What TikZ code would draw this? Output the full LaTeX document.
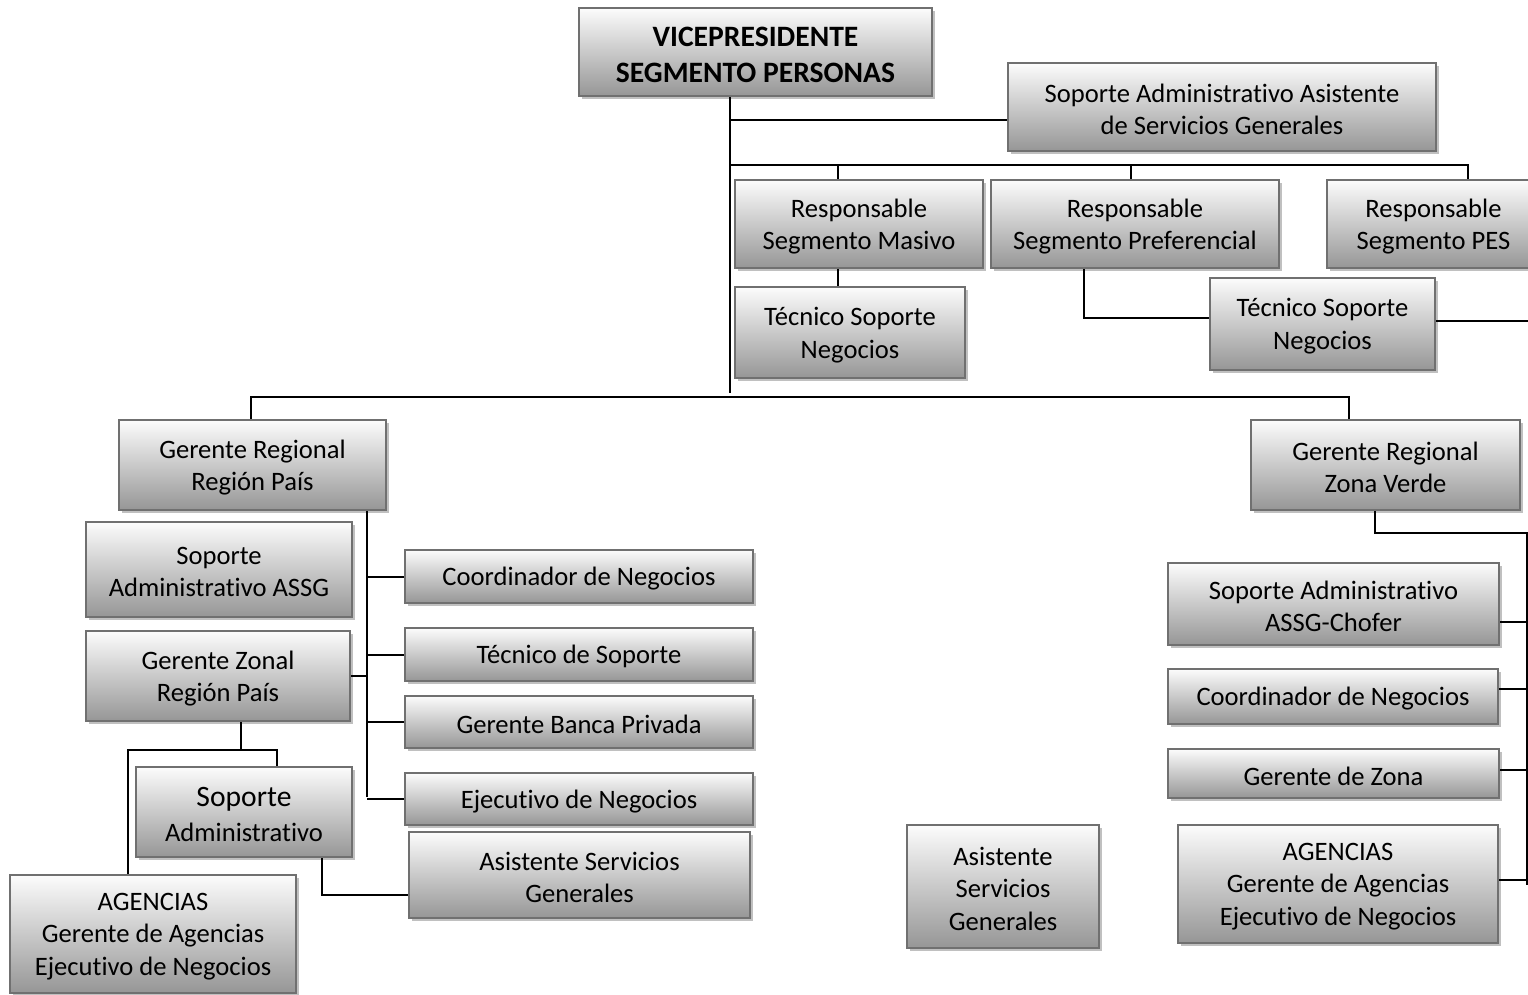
\documentclass[tikz,border=0pt]{standalone}
\usepackage{fontspec}
\setmainfont[Ligatures=NoCommon]{Carlito}
\usetikzlibrary{shadows}
\definecolor{boxtop}{RGB}{252,252,252}
\definecolor{boxbottom}{RGB}{150,150,150}
\definecolor{boxline}{RGB}{112,112,112}
\definecolor{boxshade}{RGB}{192,192,192}
\tikzset{
  orgbox/.style={draw=boxline, line width=1.2pt, top color=boxtop, bottom color=boxbottom,
    drop shadow={shadow xshift=1.6pt, shadow yshift=-1.6pt, fill=boxshade, opacity=1},
    inner sep=0pt},
  boxtext/.style={inner sep=0pt, align=center, font=\fontsize{13.3}{16.3}\selectfont},
  titlebox/.style={font=\fontsize{14.8}{18}\selectfont\bfseries},
  link/.style={draw=black, line width=1pt}
}
% box given by left, top, right, bottom (pixel-like units); its caption sits slightly low
\newcommand\orgnode[7][]{%
  \pgfmathsetmacro\bw{(#5-#3)*0.5}%
  \pgfmathsetmacro\bh{(#6-#4)*0.5}%
  \node[orgbox, minimum width=\bw pt, minimum height=\bh pt] (#2) at ({(#3+#5)/2},{(#4+#6)/2}) {};
  \node[boxtext, #1] (#2-text) at ([yshift=-1.2pt]#2.center) {#7};}
\begin{document}
\begin{tikzpicture}[x=0.5pt, y=-0.5pt]
\useasboundingbox (0,0) rectangle (1528,995);
\clip (0,0) rectangle (1528,995);

% ---- top level
\orgnode[titlebox]{vp}{579}{8}{932}{96}{VICEPRESIDENTE\\SEGMENTO PERSONAS}
\orgnode{sa}{1008}{63}{1436}{151}{Soporte Administrativo Asistente\\de Servicios Generales}
\orgnode{rm}{735}{180}{983}{268}{Responsable\\Segmento Masivo}
\orgnode{rp}{991}{180}{1279}{268}{Responsable\\Segmento Preferencial}
\orgnode{rs}{1327}{180}{1540}{268}{Responsable\\Segmento PES}
\orgnode{tm}{735}{287}{965}{378}{Técnico Soporte\\Negocios}
\orgnode{tp}{1210}{278}{1435}{370}{Técnico Soporte\\Negocios}

% ---- regional managers
\orgnode{grp}{119}{420}{386}{510}{Gerente Regional\\Región País}
\orgnode{grz}{1251}{420}{1520}{510}{Gerente Regional\\Zona Verde}

% ---- Región País branch
\orgnode{sassg}{86}{522}{352}{617}{Soporte\\Administrativo ASSG}
\orgnode{gz}{86}{631}{350}{721}{Gerente Zonal\\Región País}
\orgnode{sadm}{136}{767}{352}{857}{{\fontsize{14.8}{17}\selectfont Soporte}\\[1pt]Administrativo}
\orgnode{agl}{10}{875}{296}{993}{AGENCIAS\\Gerente de Agencias\\Ejecutivo de Negocios}
\orgnode{cnl}{405}{550}{753}{603}{Coordinador de Negocios}
\orgnode{ts}{405}{628}{753}{681}{Técnico de Soporte}
\orgnode{gbp}{405}{696}{753}{748}{Gerente Banca Privada}
\orgnode{ejn}{405}{773}{753}{825}{Ejecutivo de Negocios}
\orgnode{asgl}{409}{832}{750}{918}{Asistente Servicios\\Generales}

% ---- stand-alone box
\orgnode{asgm}{907}{825}{1099}{948}{Asistente\\Servicios\\Generales}

% ---- Zona Verde branch
\orgnode{chof}{1168}{563}{1499}{645}{Soporte Administrativo\\ASSG-Chofer}
\orgnode{cnr}{1168}{669}{1498}{724}{Coordinador de Negocios}
\orgnode{gzn}{1168}{749}{1499}{798}{Gerente de Zona}
\orgnode{agr}{1178}{825}{1498}{943}{AGENCIAS\\Gerente de Agencias\\Ejecutivo de Negocios}

% ---- connector guide points
\coordinate (trunk) at (730,393);
\coordinate (saY) at (730,120);
\coordinate (bus) at (730,165);
\coordinate (xm) at (838,0);
\coordinate (xp) at (1131,0);
\coordinate (xs) at (1468,0);
\coordinate (xpd) at (1084,318);
\coordinate (edge) at (1528,321);
\coordinate (busL) at (251,397);
\coordinate (busR) at (1349,397);
\coordinate (spL) at (367,797);
\coordinate (xgz) at (241,750);
\coordinate (xsa) at (277,0);
\coordinate (xag) at (128,0);
\coordinate (xsd) at (322,895);
\coordinate (zvA) at (1375,533);
\coordinate (zvB) at (1527,533);
\coordinate (zvEnd) at (1527,885);

% ---- connectors: vice-president level
\draw[link] (vp.south -| trunk) -- (trunk);
\draw[link] (saY) -- (saY -| sa.west);
\draw[link] (bus) -- (bus -| xs) -- (xs |- rs.north);
\draw[link] (xm |- bus) -- (xm |- rm.north);
\draw[link] (xp |- bus) -- (xp |- rp.north);
\draw[link] (rm.south -| xm) -- (tm.north -| xm);
\draw[link] (rp.south -| xpd) -- (xpd) -- (xpd -| tp.west);
\draw[link] (tp.east |- edge) -- (edge);
\draw[link] (grp.north -| busL) -- (busL) -- (busR) -- (grz.north -| busR);

% ---- connectors: Región País
\draw[link] (grp.south -| spL) -- (spL);
\draw[link] (spL |- cnl.west) -- (cnl.west);
\draw[link] (spL |- ts.west) -- (ts.west);
\draw[link] (spL |- gbp.west) -- (gbp.west);
\draw[link] (spL |- ejn.west) -- (ejn.west);
\draw[link] (gz.east) -- (gz.east -| spL);
\draw[link] (gz.south -| xgz) -- (xgz);
\draw[link] (xag |- agl.north) -- (xag |- xgz) -- (xsa |- xgz) -- (xsa |- sadm.north);
\draw[link] (sadm.south -| xsd) -- (xsd) -- (xsd -| asgl.west);

% ---- connectors: Zona Verde
\draw[link] (grz.south -| zvA) -- (zvA) -- (zvB) -- (zvEnd);
\draw[link] (chof.east |- 0,622) -- (zvB |- 0,622);
\draw[link] (cnr.east |- 0,689) -- (zvB |- 0,689);
\draw[link] (gzn.east |- 0,770) -- (zvB |- 0,770);
\draw[link] (agr.east |- 0,880) -- (zvB |- 0,880);
\end{tikzpicture}
\end{document}
